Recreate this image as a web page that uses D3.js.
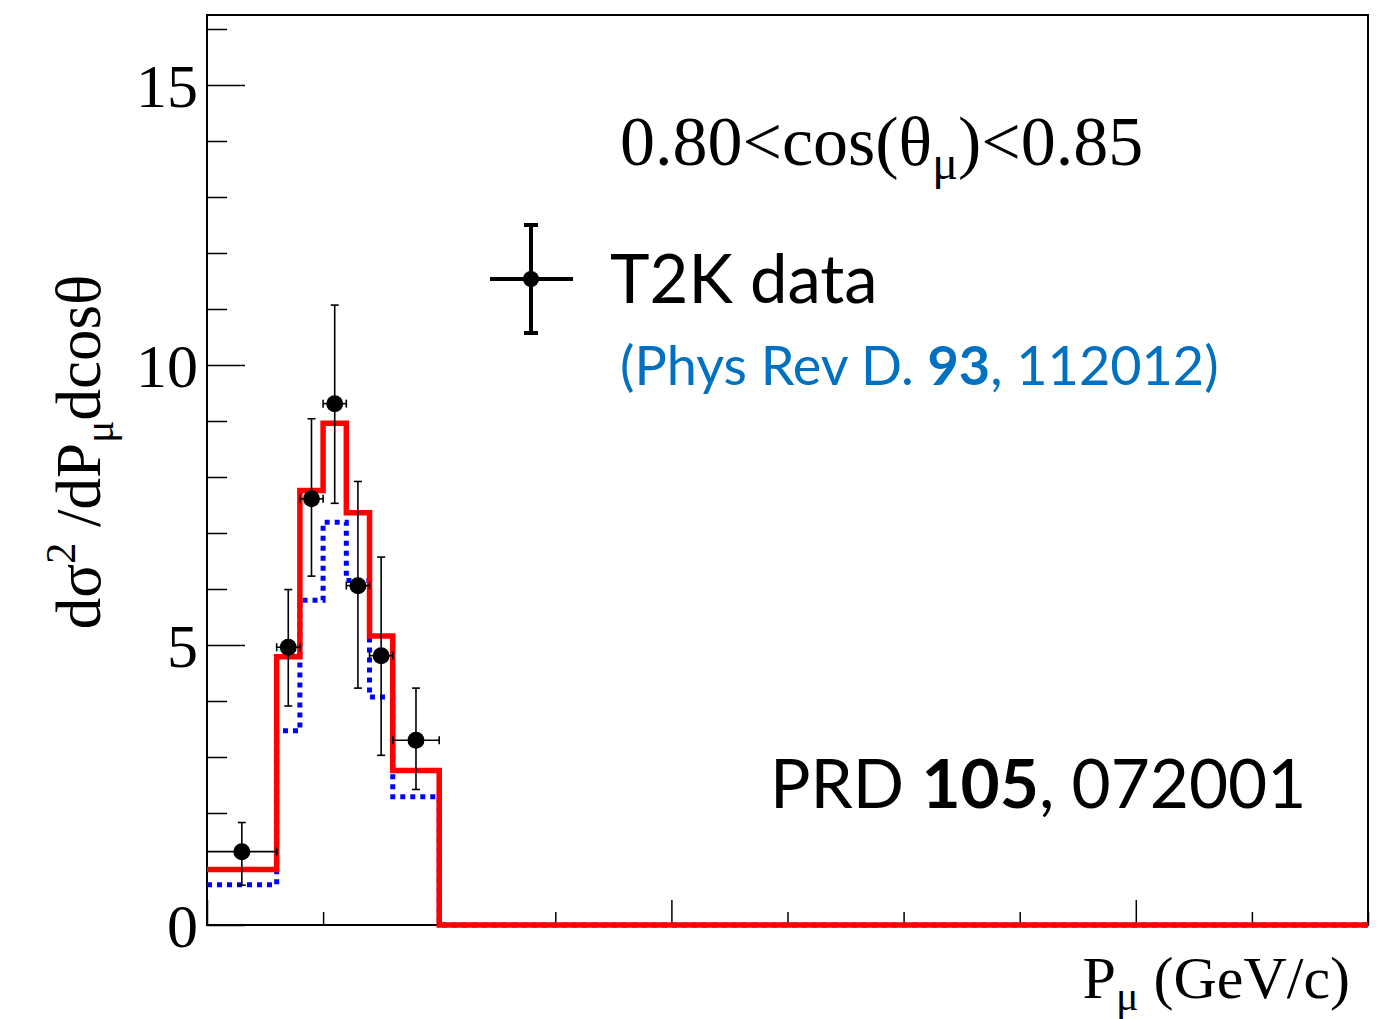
<!DOCTYPE html>
<html><head><meta charset="utf-8">
<script src="https://cdn.jsdelivr.net/npm/d3@7"></script>
<style>html,body{margin:0;padding:0;background:#fff;}svg{display:block;}</style>
</head><body>
<script>
// ---- data ----
const binEdges = [0, 0.3, 0.4, 0.5, 0.6, 0.7, 0.8, 1.0, 5.0];
const dataValues = [1.31, 4.96, 7.61, 9.31, 6.06, 4.81, 3.30];
const dataErrUp   = [1.83, 5.99, 9.04, 11.07, 7.92, 6.57, 4.23];
const dataErrDown = [0.71, 3.91, 6.23, 7.53, 4.23, 3.03, 2.42];
const redModel  = [0.99, 4.79, 7.76, 8.96, 7.36, 5.16, 2.76, 0];
const blueModel = [0.72, 3.47, 5.80, 7.19, 6.15, 4.07, 2.29, 0];
const yMajorTicks = [0, 5, 10, 15];
const yMinorTicks = d3.range(0, 17, 1);
const xMajorTicks = [0, 2, 4];
const xMinorTicks = d3.range(0, 5.01, 0.5);

const W = 1382, H = 1019;
const svg = d3.select("body").append("svg").attr("width", W).attr("height", H);
const x = d3.scaleLinear().domain([0, 5]).range([207, 1368]);
const y = d3.scaleLinear().domain([0, 16.25]).range([925, 15]);
const serif = "'Liberation Serif', 'Times New Roman', serif";
const sans = "Lato, 'Open Sans', sans-serif";

// frame
svg.append("rect").attr("x", x(0)).attr("y", y(16.25)).attr("width", x(5) - x(0)).attr("height", y(0) - y(16.25))
  .attr("fill", "none").attr("stroke", "#000").attr("stroke-width", 2);

// y ticks
svg.append("g").attr("transform", `translate(${x(0)},0)`)
  .call(d3.axisRight(y).tickValues(yMinorTicks.filter(v => !yMajorTicks.includes(v))).tickSize(20).tickFormat(""))
  .call(g => g.select(".domain").remove())
  .call(g => g.selectAll("line").attr("stroke", "#000").attr("stroke-width", 1.5));
svg.append("g").attr("transform", `translate(${x(0)},0)`)
  .call(d3.axisRight(y).tickValues(yMajorTicks).tickSize(38).tickFormat(""))
  .call(g => g.select(".domain").remove())
  .call(g => g.selectAll("line").attr("stroke", "#000").attr("stroke-width", 1.5));
svg.append("g").selectAll("text").data(yMajorTicks).join("text")
  .attr("x", 198).attr("y", d => y(d)).attr("dy", "0.35em").attr("text-anchor", "end")
  .attr("font-family", serif).attr("font-size", 62).text(d => d);

// x ticks
svg.append("g").attr("transform", `translate(0,${y(0)})`)
  .call(d3.axisTop(x).tickValues(xMinorTicks.filter(v => !xMajorTicks.includes(v))).tickSize(13).tickFormat(""))
  .call(g => g.select(".domain").remove())
  .call(g => g.selectAll("line").attr("stroke", "#000").attr("stroke-width", 1.5));
svg.append("g").attr("transform", `translate(0,${y(0)})`)
  .call(d3.axisTop(x).tickValues(xMajorTicks).tickSize(25).tickFormat(""))
  .call(g => g.select(".domain").remove())
  .call(g => g.selectAll("line").attr("stroke", "#000").attr("stroke-width", 1.5));

// step histograms
function stepPts(vals) {
  const pts = vals.map((v, i) => [binEdges[i], v]);
  pts.push([binEdges[binEdges.length - 1], vals[vals.length - 1]]);
  return pts;
}
const line = d3.line().x(d => x(d[0])).y(d => y(d[1])).curve(d3.curveStepAfter);
svg.append("path").attr("d", line(stepPts(blueModel))).attr("fill", "none")
  .attr("stroke", "#0000ff").attr("stroke-width", 5).attr("stroke-dasharray", "5,5");
svg.append("path").attr("d", line(stepPts(redModel))).attr("fill", "none")
  .attr("stroke", "#ff0000").attr("stroke-width", 5.5);

// data points
const pts = dataValues.map((v, i) => ({
  x0: binEdges[i], x1: binEdges[i + 1], xc: (binEdges[i] + binEdges[i + 1]) / 2,
  v, up: dataErrUp[i], dn: dataErrDown[i]
}));
const gd = svg.append("g").attr("stroke", "#000").attr("stroke-width", 1.6);
const cap = 4;
pts.forEach(p => {
  gd.append("line").attr("x1", x(p.x0)).attr("x2", x(p.x1)).attr("y1", y(p.v)).attr("y2", y(p.v));
  gd.append("line").attr("x1", x(p.x0)).attr("x2", x(p.x0)).attr("y1", y(p.v) - cap).attr("y2", y(p.v) + cap);
  gd.append("line").attr("x1", x(p.x1)).attr("x2", x(p.x1)).attr("y1", y(p.v) - cap).attr("y2", y(p.v) + cap);
  gd.append("line").attr("x1", x(p.xc)).attr("x2", x(p.xc)).attr("y1", y(p.dn)).attr("y2", y(p.up));
  gd.append("line").attr("x1", x(p.xc) - cap).attr("x2", x(p.xc) + cap).attr("y1", y(p.dn)).attr("y2", y(p.dn));
  gd.append("line").attr("x1", x(p.xc) - cap).attr("x2", x(p.xc) + cap).attr("y1", y(p.up)).attr("y2", y(p.up));
});
svg.append("g").selectAll("circle").data(pts).join("circle")
  .attr("cx", d => x(d.xc)).attr("cy", d => y(d.v)).attr("r", 8.5).attr("fill", "#000");

// title
const t = svg.append("text").attr("x", 620).attr("y", 165).attr("font-family", serif).attr("font-size", 70);
t.append("tspan").text("0.80<cos(");
t.append("tspan").text("\u03B8");
t.append("tspan").attr("font-size", 48).attr("dy", 14).text("\u03BC");
t.append("tspan").attr("dy", -14).text(")<0.85");

// legend
const lg = svg.append("g").attr("stroke", "#000").attr("stroke-width", 4);
lg.append("line").attr("x1", 531).attr("x2", 531).attr("y1", 225).attr("y2", 333);
lg.append("line").attr("x1", 524).attr("x2", 538).attr("y1", 225).attr("y2", 225);
lg.append("line").attr("x1", 524).attr("x2", 538).attr("y1", 333).attr("y2", 333);
lg.append("line").attr("x1", 490).attr("x2", 573).attr("y1", 279).attr("y2", 279);
svg.append("circle").attr("cx", 531).attr("cy", 279).attr("r", 8).attr("fill", "#000");
svg.append("text").attr("x", 610).attr("y", 303).attr("font-family", sans).attr("font-size", 67).text("T2K data");
const ref = svg.append("text").attr("x", 620).attr("y", 385).attr("font-family", sans).attr("font-size", 54).attr("fill", "#0070c0");
ref.append("tspan").text("(Phys Rev D. ");
ref.append("tspan").attr("font-weight", "bold").text("93");
ref.append("tspan").text(", 112012)");

const prd = svg.append("text").attr("x", 770).attr("y", 808).attr("font-family", sans).attr("font-size", 67.5).attr("fill", "#000");
prd.append("tspan").text("PRD ");
prd.append("tspan").attr("font-weight", "bold").text("105");
prd.append("tspan").text(", 072001");

// x label
const xl = svg.append("text").attr("x", 1350).attr("y", 998).attr("text-anchor", "end").attr("font-family", serif).attr("font-size", 60);
xl.append("tspan").text("P");
xl.append("tspan").attr("font-size", 42).attr("dy", 12).text("\u03BC");
xl.append("tspan").attr("dy", -12).text(" (GeV/c)");

// y label
const yl = svg.append("text").attr("transform", "translate(100,452) rotate(-90)").attr("text-anchor", "middle")
  .attr("font-family", serif).attr("font-size", 63);
yl.append("tspan").text("d\u03C3");
yl.append("tspan").attr("font-size", 42).attr("dy", -25).text("2");
yl.append("tspan").attr("dy", 25).text(" /dP");
yl.append("tspan").attr("font-size", 42).attr("dy", 13).text("\u03BC");
yl.append("tspan").attr("dy", -13).text("dcos\u03B8");
</script>
</body></html>
